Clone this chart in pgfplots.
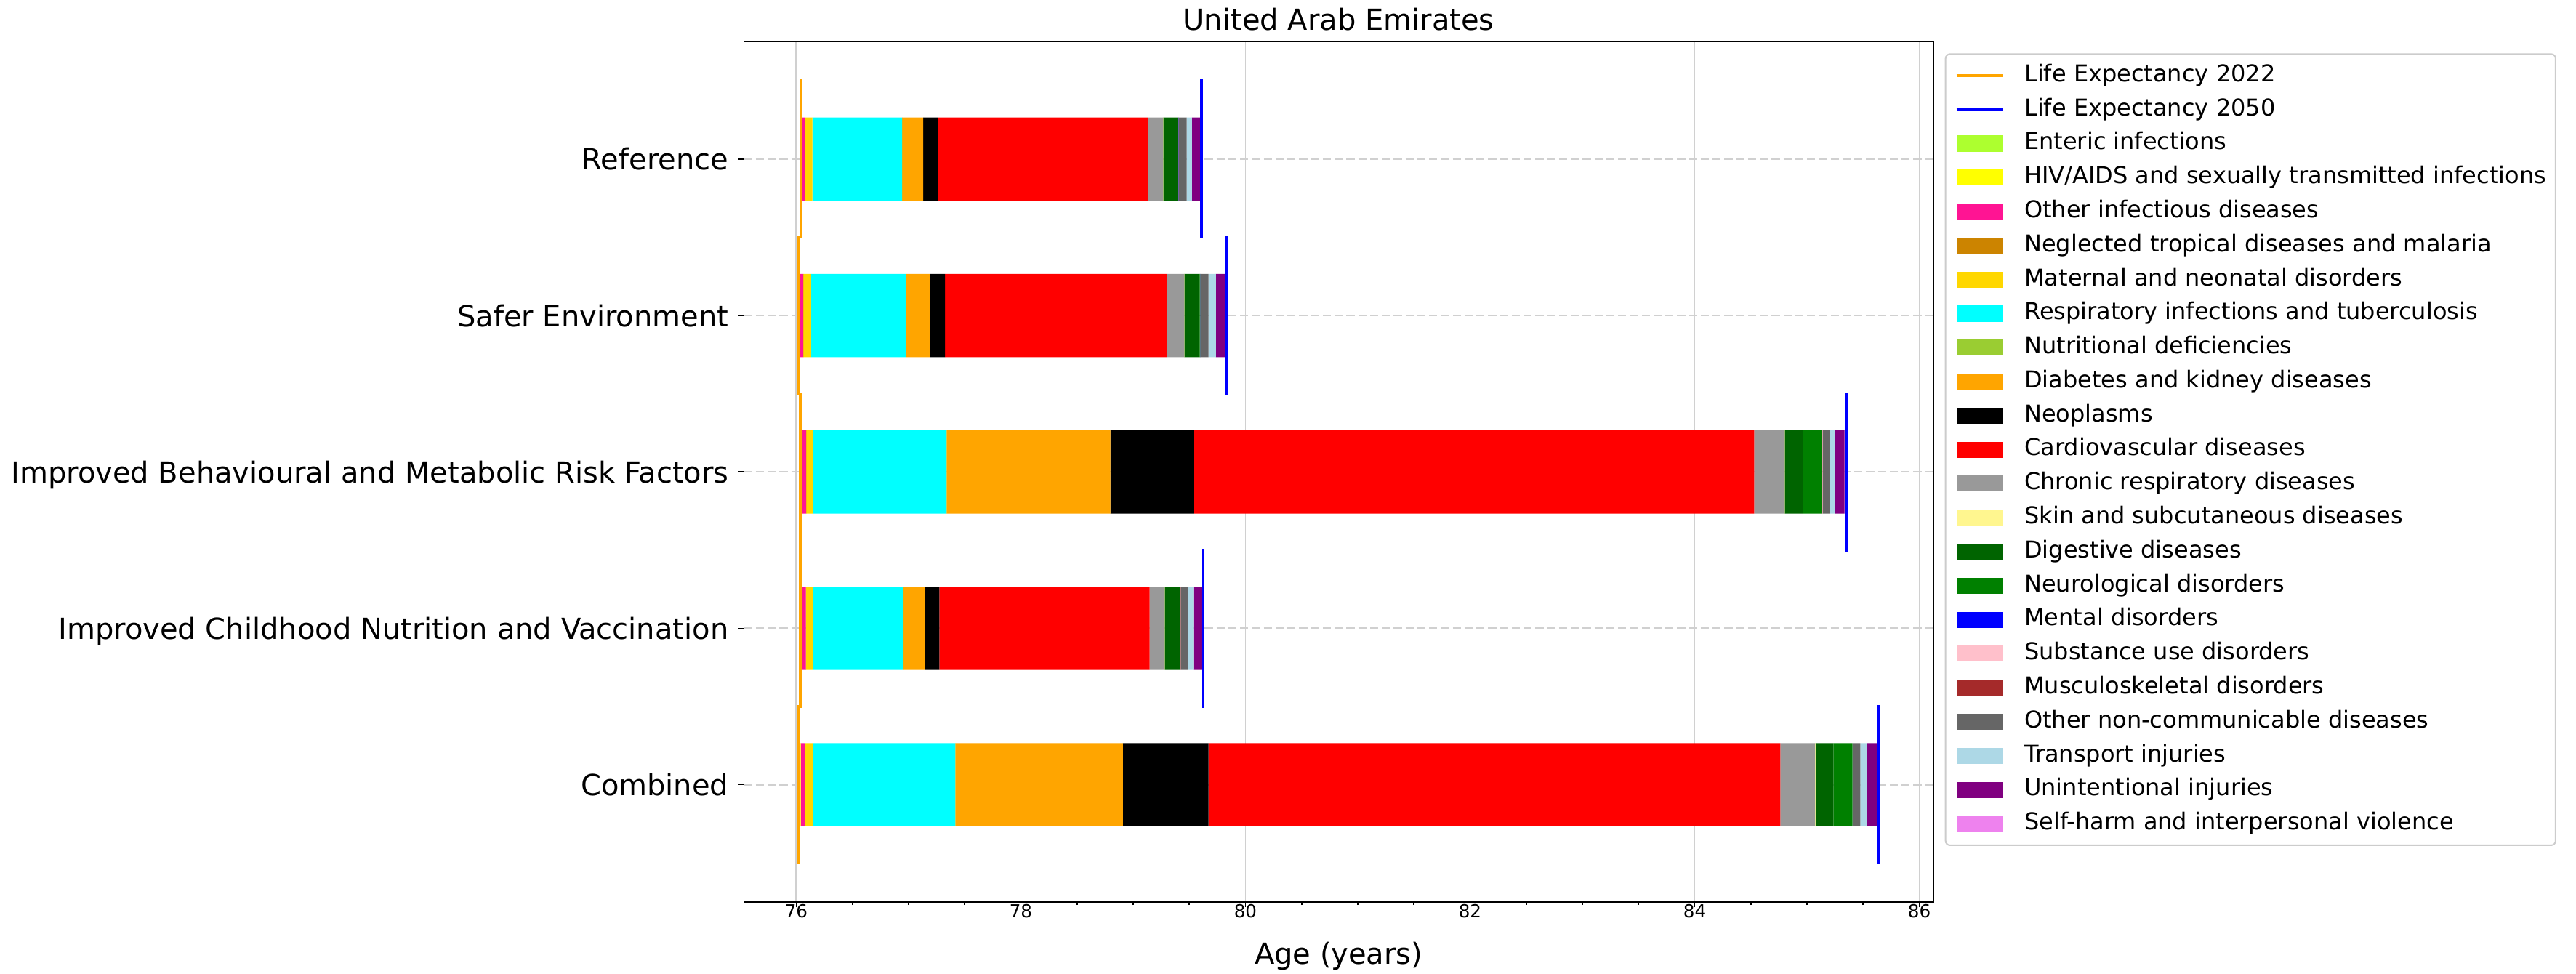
\documentclass[border=0pt]{standalone}
\usepackage{fontspec}
\setmainfont{DejaVu Sans}
\usepackage{pgfplots}
\usepackage{pgfplotstable}
\pgfplotsset{compat=1.18}

\definecolor{cEnt}{HTML}{ADFF2F}
\definecolor{cHIV}{HTML}{FFFF00}
\definecolor{cOinf}{HTML}{FF1493}
\definecolor{cNTD}{HTML}{CC8400}
\definecolor{cMat}{HTML}{FFD700}
\definecolor{cResp}{HTML}{00FFFF}
\definecolor{cNutr}{HTML}{9ACD32}
\definecolor{cDiab}{HTML}{FFA500}
\definecolor{cNeo}{HTML}{000000}
\definecolor{cCVD}{HTML}{FF0000}
\definecolor{cCRD}{HTML}{999999}
\definecolor{cSkin}{HTML}{FFF68F}
\definecolor{cDig}{HTML}{006400}
\definecolor{cNeur}{HTML}{008000}
\definecolor{cMent}{HTML}{0000FF}
\definecolor{cSub}{HTML}{FFC0CB}
\definecolor{cMusc}{HTML}{A52A2A}
\definecolor{cONCD}{HTML}{666666}
\definecolor{cTrans}{HTML}{ADD8E6}
\definecolor{cUnint}{HTML}{800080}
\definecolor{cSelf}{HTML}{EE82EE}
\definecolor{cLEa}{HTML}{FFA500}
\definecolor{cLEb}{HTML}{0000FF}
\definecolor{cGrid}{HTML}{D0D0D0}

\pgfplotsset{
  barleg/.style={legend image code/.code={\fill[##1, sharp corners] (0pt,-2.65pt) rectangle (15.5pt,2.65pt);}},
  lineleg/.style={legend image code/.code={\draw[##1, sharp corners] (0pt,0pt) -- (15.5pt,0pt);}},
  seg/.style={fill=#1, draw=none, barleg},
}

\pgfplotstableread{
y base Ent HIV Oinf NTD Mat Resp Nutr Diab Neo CVD CRD Skin Dig Neur Ment Sub Musc ONCD Trans Unint Self
0 76.040 0.008 0.006 0.023 0.0005 0.067 0.798 0.001 0.188 0.130 1.871 0.133 0.002 0.135 0.000 0.001 0.001 0.001 0.072 0.047 0.081 0.008
1 76.022 0.008 0.006 0.027 0.0005 0.069 0.844 0.001 0.211 0.136 1.978 0.151 0.002 0.136 0.007 0.001 0.001 0.0005 0.070 0.066 0.081 0.011
2 76.037 0.010 0.007 0.035 0.0005 0.057 1.192 0.001 1.457 0.746 4.987 0.270 0.002 0.162 0.169 0.002 0.004 0.001 0.064 0.045 0.086 0.014
3 76.037 0.010 0.007 0.032 0.0005 0.064 0.804 0.001 0.189 0.130 1.872 0.133 0.002 0.134 0.004 0.001 0.001 0.002 0.067 0.044 0.077 0.012
4 76.020 0.012 0.008 0.040 0.0005 0.066 1.269 0.001 1.493 0.761 5.093 0.306 0.005 0.161 0.169 0.001 0.004 0.001 0.065 0.059 0.099 0.009
}\data

\begin{document}
\begin{tikzpicture}
\useasboundingbox (-245.66pt,-23.52pt) rectangle (604.9pt,297.84pt);
\begin{axis}[
  at={(0,0)}, anchor=south west,
  scale only axis, width=392.7pt, height=284.04pt,
  xbar stacked, bar width=27.5pt,
  barleg,
  xmin=75.535, xmax=86.125,
  ymin=-0.75, ymax=4.75, y dir=reverse,
  xtick={76,78,80,82,84,86}, minor x tick num=3,
  ytick={0,1,2,3,4},
  yticklabels={Reference,Safer Environment,Improved Behavioural and Metabolic Risk Factors,Improved Childhood Nutrition and Vaccination,Combined},
  tick pos=left, tick align=outside,
  major tick length=1.7pt, minor tick length=1.0pt,
  tick style={black, line width=0.4pt},
  axis line style={line width=0.4pt},
  /pgf/number format/assume math mode=true,
  xticklabel style={font=\fontsize{5.9}{7}\selectfont, inner sep=0pt, anchor=north, yshift=1.1pt},
  yticklabel style={font=\fontsize{9.6}{11}\selectfont, inner sep=0pt, anchor=base east, xshift=-3.2pt, yshift=-3.6pt},
  xmajorgrids, ymajorgrids,
  x grid style={cGrid, line width=0.45pt},
  y grid style={cGrid, line width=0.5pt, dash pattern=on 2.7pt off 1.2pt},
  title={United Arab Emirates},
  every axis title shift=0pt,
  title style={at={(0.5,1)}, anchor=base, yshift=3.8pt, inner sep=0pt, font=\fontsize{9.6}{11}\selectfont},
  xlabel={Age (years)},
  every axis x label/.style={at={(axis description cs:0.5,0)}, anchor=base, yshift=-20.6pt, inner sep=0pt, font=\fontsize{9.6}{11}\selectfont},
  legend cell align=left,
  legend style={at={(1,1)}, anchor=north west, xshift=3.8pt, yshift=-3.8pt,
    draw=black!20, line width=0.48pt, rounded corners=1.5pt, fill=white,
    inner xsep=3.1pt, inner ysep=3.3pt, row sep=3.63pt,
    font=\fontsize{7.68}{9}\selectfont,
    nodes={inner sep=0pt, text height=5.8pt, text depth=1.8pt},
    /tikz/every odd column/.append style={column sep=6.5pt}},
]
\addlegendimage{lineleg, cLEa, line width=0.96pt}
\addlegendentry{Life Expectancy 2022}
\addlegendimage{lineleg, cLEb, line width=0.96pt}
\addlegendentry{Life Expectancy 2050}
\addplot[forget plot, draw=none, fill=none] table[x=base, y=y] {\data};
\addplot[seg=cEnt] table[x=Ent, y=y] {\data}; \addlegendentry{Enteric infections}
\addplot[seg=cHIV] table[x=HIV, y=y] {\data}; \addlegendentry{HIV/AIDS and sexually transmitted infections}
\addplot[seg=cOinf] table[x=Oinf, y=y] {\data}; \addlegendentry{Other infectious diseases}
\addplot[seg=cNTD] table[x=NTD, y=y] {\data}; \addlegendentry{Neglected tropical diseases and malaria}
\addplot[seg=cMat] table[x=Mat, y=y] {\data}; \addlegendentry{Maternal and neonatal disorders}
\addplot[seg=cResp] table[x=Resp, y=y] {\data}; \addlegendentry{Respiratory infections and tuberculosis}
\addplot[seg=cNutr] table[x=Nutr, y=y] {\data}; \addlegendentry{Nutritional deficiencies}
\addplot[seg=cDiab] table[x=Diab, y=y] {\data}; \addlegendentry{Diabetes and kidney diseases}
\addplot[seg=cNeo] table[x=Neo, y=y] {\data}; \addlegendentry{Neoplasms}
\addplot[seg=cCVD] table[x=CVD, y=y] {\data}; \addlegendentry{Cardiovascular diseases}
\addplot[seg=cCRD] table[x=CRD, y=y] {\data}; \addlegendentry{Chronic respiratory diseases}
\addplot[seg=cSkin] table[x=Skin, y=y] {\data}; \addlegendentry{Skin and subcutaneous diseases}
\addplot[seg=cDig] table[x=Dig, y=y] {\data}; \addlegendentry{Digestive diseases}
\addplot[seg=cNeur] table[x=Neur, y=y] {\data}; \addlegendentry{Neurological disorders}
\addplot[seg=cMent] table[x=Ment, y=y] {\data}; \addlegendentry{Mental disorders}
\addplot[seg=cSub] table[x=Sub, y=y] {\data}; \addlegendentry{Substance use disorders}
\addplot[seg=cMusc] table[x=Musc, y=y] {\data}; \addlegendentry{Musculoskeletal disorders}
\addplot[seg=cONCD] table[x=ONCD, y=y] {\data}; \addlegendentry{Other non-communicable diseases}
\addplot[seg=cTrans] table[x=Trans, y=y] {\data}; \addlegendentry{Transport injuries}
\addplot[seg=cUnint] table[x=Unint, y=y] {\data}; \addlegendentry{Unintentional injuries}
\addplot[seg=cSelf] table[x=Self, y=y] {\data}; \addlegendentry{Self-harm and interpersonal violence}
\end{axis}
\begin{axis}[
  at={(0,0)}, anchor=south west,
  scale only axis, width=392.7pt, height=284.04pt,
  xmin=75.535, xmax=86.125,
  ymin=-0.75, ymax=4.75, y dir=reverse,
  hide axis,
]
\addplot[cLEa, line width=0.96pt, line cap=rect] coordinates {(76.040,-0.5) (76.040,0.5)};
\addplot[cLEa, line width=0.96pt, line cap=rect] coordinates {(76.022,0.5) (76.022,1.5)};
\addplot[cLEa, line width=0.96pt, line cap=rect] coordinates {(76.037,1.5) (76.037,2.5)};
\addplot[cLEa, line width=0.96pt, line cap=rect] coordinates {(76.037,2.5) (76.037,3.5)};
\addplot[cLEa, line width=0.96pt, line cap=rect] coordinates {(76.020,3.5) (76.020,4.5)};
\addplot[cLEb, line width=0.96pt, line cap=rect] coordinates {(79.611,-0.5) (79.611,0.5)};
\addplot[cLEb, line width=0.96pt, line cap=rect] coordinates {(79.828,0.5) (79.828,1.5)};
\addplot[cLEb, line width=0.96pt, line cap=rect] coordinates {(85.348,1.5) (85.348,2.5)};
\addplot[cLEb, line width=0.96pt, line cap=rect] coordinates {(79.623,2.5) (79.623,3.5)};
\addplot[cLEb, line width=0.96pt, line cap=rect] coordinates {(85.642,3.5) (85.642,4.5)};
\end{axis}
\end{tikzpicture}
\end{document}
